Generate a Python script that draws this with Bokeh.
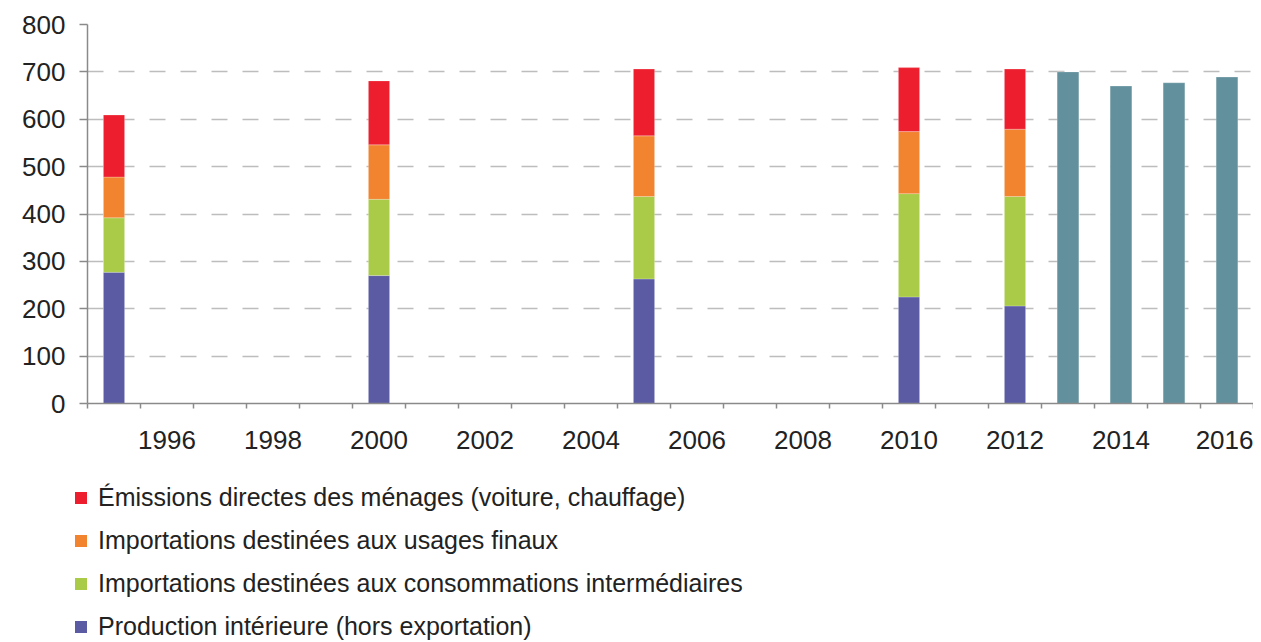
from bokeh.plotting import figure
from bokeh.layouts import column
from bokeh.models import Range1d, FixedTicker, Legend, LegendItem, ColumnDataSource
from bokeh.embed import file_html
from bokeh.resources import INLINE

# ---- data ----
stack_years = [1995, 2000, 2005, 2010, 2012]
production = [277, 270, 263, 225, 206]
imp_inter = [115, 161, 174, 218, 231]
imp_final = [86, 115, 128, 131, 142]
direct = [131, 135, 141, 135, 127]

total_years = [2013, 2014, 2015, 2016]
total = [700, 670, 677, 689]

tick_years = [1996, 1998, 2000, 2002, 2004, 2006, 2008, 2010, 2012, 2014, 2016]
y_ticks = [0, 100, 200, 300, 400, 500, 600, 700, 800]

labels = [
    "Production intérieure (hors exportation)",
    "Importations destinées aux consommations intermédiaires",
    "Importations destinées aux usages finaux",
    "Émissions directes des ménages (voiture, chauffage)",
]
keys = ["production", "imp_inter", "imp_final", "direct"]
colors = ["#5B5BA3", "#A9CB47", "#F28430", "#ED1F2E"]
teal = "#62909C"

FONT = "Liberation Sans"

p = figure(width=1253, height=470, output_backend="svg", toolbar_location=None,
           x_range=Range1d(1994.5, 2016.5), y_range=Range1d(0, 800),
           min_border_left=87, min_border_top=24, min_border_right=0,
           min_border_bottom=67)
p.outline_line_color = None

src = ColumnDataSource(dict(x=stack_years, production=production, imp_inter=imp_inter,
                            imp_final=imp_final, direct=direct))
rs = p.vbar_stack(keys, x="x", width=0.4, source=src, color=colors,
                  line_color="white", line_alpha=0.4, line_width=0.6)

tsrc = ColumnDataSource(dict(x=total_years, top=total))
p.vbar(x="x", top="top", width=0.41, source=tsrc, fill_color=teal,
       line_color="white", line_alpha=0.4, line_width=0.6)

# axes
p.yaxis.ticker = FixedTicker(ticks=y_ticks)
p.yaxis.major_tick_out = 8
p.yaxis.major_tick_in = 0
p.yaxis.minor_tick_out = 0
p.yaxis.axis_line_color = "#8a8a8a"
p.yaxis.axis_line_width = 1.5
p.yaxis.major_tick_line_color = "#8a8a8a"
p.yaxis.major_tick_line_width = 1.5
p.yaxis.major_label_standoff = 14
p.yaxis.major_label_text_font = FONT
p.yaxis.major_label_text_font_size = "26px"
p.yaxis.major_label_text_color = "#222222"

minor = [y + 0.5 for y in range(1994, 2017)]
p.xaxis.ticker = FixedTicker(ticks=tick_years, minor_ticks=minor)
p.xaxis.major_tick_out = 0
p.xaxis.major_tick_in = 0
p.xaxis.minor_tick_out = 5
p.xaxis.minor_tick_in = 0
p.xaxis.minor_tick_line_color = "#8a8a8a"
p.xaxis.minor_tick_line_width = 1.5
p.xaxis.axis_line_color = "#8a8a8a"
p.xaxis.axis_line_width = 1.5
p.xaxis.major_label_standoff = 22
p.xaxis.major_label_text_font = FONT
p.xaxis.major_label_text_font_size = "26px"
p.xaxis.major_label_text_color = "#222222"

p.xgrid.grid_line_color = None
p.ygrid.ticker = FixedTicker(ticks=y_ticks[1:])
p.ygrid.grid_line_color = "#bdbdbd"
p.ygrid.grid_line_width = 1.5
p.ygrid.grid_line_dash = "16 15"

# ---- legend figure ----
lg = figure(width=1253, height=172, output_backend="svg", toolbar_location=None,
            x_axis_location=None, y_axis_location=None,
            x_range=Range1d(0, 1), y_range=Range1d(0, 1),
            min_border_left=73, min_border_top=13, min_border_right=0,
            min_border_bottom=0)
lg.frame_align = False
lg.outline_line_color = None
lg.xgrid.visible = False
lg.ygrid.visible = False
swatch = ColumnDataSource(dict(x=[0.5], top=[0]))
lrs = [lg.vbar(x="x", top="top", width=0.01, source=swatch, fill_color=c, line_color=None)
       for c in colors]
items = [LegendItem(label=labels[i], renderers=[lrs[i]]) for i in [3, 2, 1, 0]]
legend = Legend(items=items, location="top_left", orientation="vertical",
                label_text_font=FONT, label_text_font_size="25px",
                label_text_color="#222222", glyph_width=15, glyph_height=15,
                label_standoff=10, spacing=14, padding=0, margin=0,
                background_fill_alpha=0, border_line_color=None)
lg.add_layout(legend, "center")

layout = column(p, lg, spacing=0)
open("out.html", "w").write(file_html(layout, INLINE))
